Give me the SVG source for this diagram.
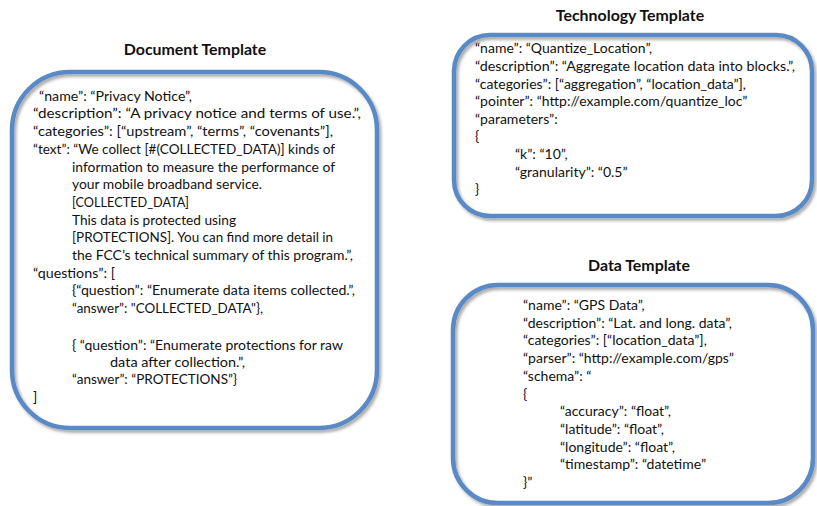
<svg xmlns="http://www.w3.org/2000/svg" width="817" height="506" viewBox="0 0 817 506">
  <style>
    .frame { fill: none; stroke: #5A8AC6; stroke-width: 4.5; filter: url(#soft); }
    .title { font-family: Lato, "Liberation Sans", sans-serif; font-weight: bold; font-size: 15.9px; fill: #111; text-anchor: middle; }
    .body { font-family: Lato, "Liberation Sans", sans-serif; font-size: 14px; fill: #111; }
  </style>
  <defs>
    <filter id="soft" x="-10%" y="-10%" width="120%" height="120%">
      <feDropShadow dx="2" dy="2.5" stdDeviation="1.6" flood-color="#000" flood-opacity="0.35"/>
    </filter>
  </defs>

  <rect width="817" height="506" fill="#fff"/>

  <!-- Document template: one text element per line so each can be fitted to its width -->
  <g id="document-template">
    <text class="title" x="195" y="55">Document Template</text>
    <rect class="frame" x="12" y="72" width="365" height="356" rx="58" ry="58"/>
    <g class="body">
      <text x="39" y="100.7" textLength="153" lengthAdjust="spacingAndGlyphs">“name”: “Privacy Notice”,</text>
      <text x="33" y="118.4" textLength="328" lengthAdjust="spacingAndGlyphs">“description”: “A privacy notice and terms of use.”,</text>
      <text x="33" y="136.1" textLength="300" lengthAdjust="spacingAndGlyphs">“categories”: [“upstream”, “terms”, “covenants”],</text>
      <text x="33" y="153.8" textLength="302" lengthAdjust="spacingAndGlyphs">“text”: “We collect [#(COLLECTED_DATA)] kinds of</text>
      <text x="72" y="171.5" textLength="263" lengthAdjust="spacingAndGlyphs">information to measure the performance of</text>
      <text x="72" y="189.2" textLength="190" lengthAdjust="spacingAndGlyphs">your mobile broadband service.</text>
      <text x="72" y="206.9" textLength="117" lengthAdjust="spacingAndGlyphs">[COLLECTED_DATA]</text>
      <text x="72" y="224.6" textLength="164" lengthAdjust="spacingAndGlyphs">This data is protected using</text>
      <text x="72" y="242.3" textLength="261" lengthAdjust="spacingAndGlyphs">[PROTECTIONS]. You can find more detail in</text>
      <text x="72" y="260" textLength="281" lengthAdjust="spacingAndGlyphs">the FCC’s technical summary of this program.”,</text>
      <text x="33" y="277.7" textLength="82" lengthAdjust="spacingAndGlyphs">“questions”: [</text>
      <text x="72" y="295.4" textLength="283" lengthAdjust="spacingAndGlyphs">{“question”: “Enumerate data items collected.”,</text>
      <text x="72" y="313.1" textLength="191" lengthAdjust="spacingAndGlyphs">“answer”: "COLLECTED_DATA"},</text>
      <text x="72" y="349.5" textLength="271" lengthAdjust="spacingAndGlyphs">{ “question”: “Enumerate protections for raw</text>
      <text x="110" y="367.2" textLength="135" lengthAdjust="spacingAndGlyphs">data after collection.”,</text>
      <text x="72" y="384.3" textLength="165" lengthAdjust="spacingAndGlyphs">“answer”: “PROTECTIONS”}</text>
      <text x="33" y="401.7">]</text>
    </g>
  </g>

  <!-- Technology template -->
  <g id="technology-template">
    <text class="title" x="630" y="21">Technology Template</text>
    <rect class="frame" x="454" y="35" width="358" height="181" rx="36" ry="36"/>
    <g class="body">
      <text x="475" y="53.3">“name”: “Quantize_Location”,</text>
      <text x="475" y="70.9" textLength="320" lengthAdjust="spacingAndGlyphs">“description”: “Aggregate location data into blocks.”,</text>
      <text x="475" y="88.5">“categories”: [“aggregation”, “location_data”],</text>
      <text x="475" y="106.1">“pointer”: “http://example.com/quantize_loc”</text>
      <text x="475" y="123.7">“parameters”:</text>
      <text x="475" y="141.3">{</text>
      <text x="515" y="158.9">“k”: “10”,</text>
      <text x="515" y="176.5">“granularity”: “0.5”</text>
      <text x="475" y="194.1">}</text>
    </g>
  </g>

  <!-- Data template -->
  <g id="data-template">
    <text class="title" x="639" y="271">Data Template</text>
    <rect class="frame" x="453" y="285" width="360" height="218" rx="45" ry="45"/>
    <g class="body">
      <text x="523" y="310">“name”: “GPS Data”,</text>
      <text x="523" y="327.7">“description”: “Lat. and long. data”,</text>
      <text x="523" y="345.4">“categories”: [“location_data”],</text>
      <text x="523" y="363.1">“parser”: “http://example.com/gps”</text>
      <text x="523" y="380.8">“schema”: “</text>
      <text x="523" y="398.5">{</text>
      <text x="560" y="416.2">“accuracy”: “float”,</text>
      <text x="560" y="433.9">“latitude”: “float”,</text>
      <text x="560" y="451.6">“longitude”: “float”,</text>
      <text x="560" y="469.3">“timestamp”: “datetime”</text>
      <text x="523" y="487">}”</text>
    </g>
  </g>

  <!-- no connectors in this figure -->
  <g id="connectors"/>
</svg>
